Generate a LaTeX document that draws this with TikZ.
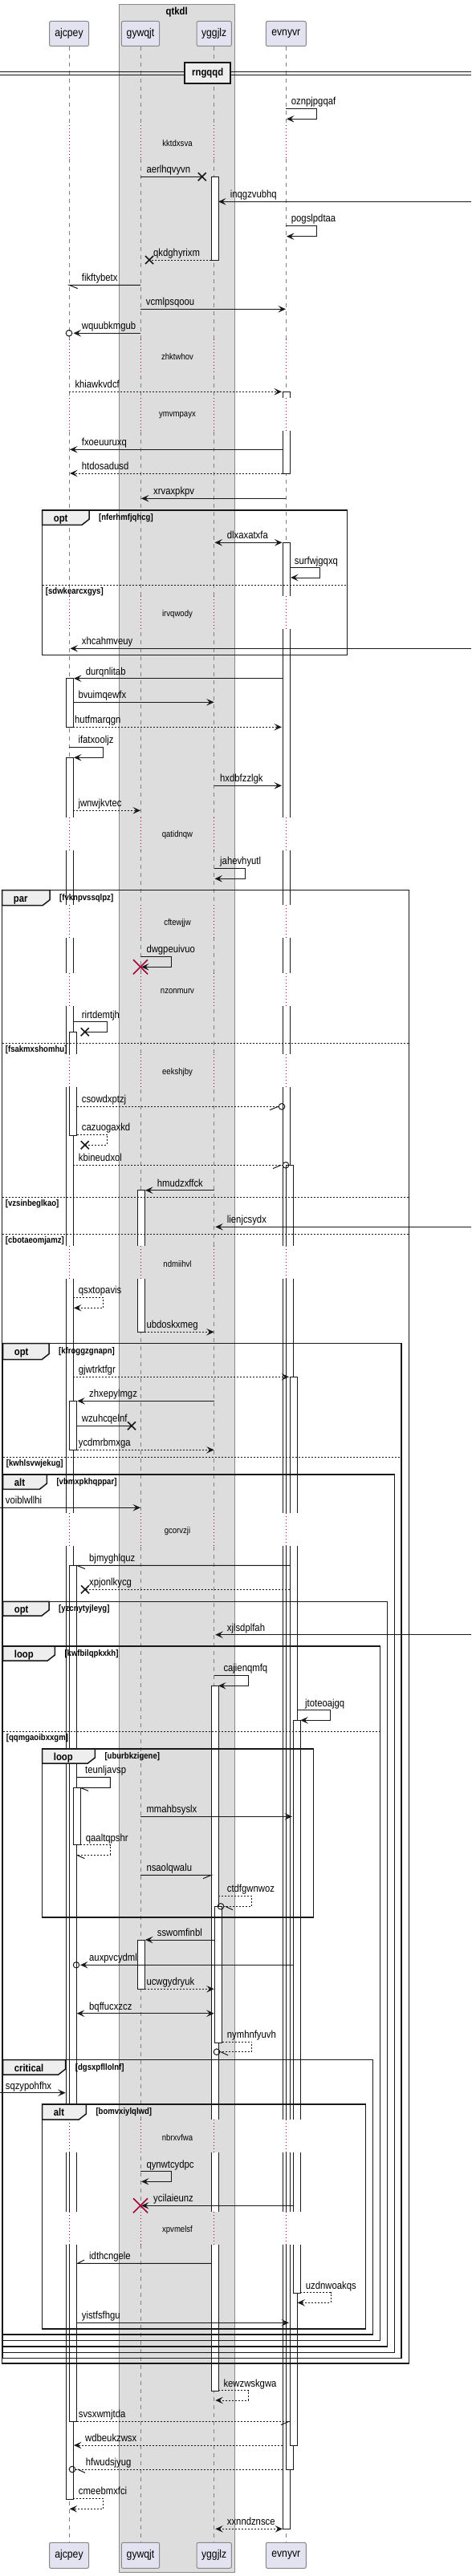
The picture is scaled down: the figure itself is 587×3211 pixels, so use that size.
\documentclass[tikz,border=0pt]{standalone}
\usepackage{fontspec}
\setmainfont{Liberation Sans}[FakeStretch=0.87]
\usetikzlibrary{arrows.meta}
\definecolor{grpbg}{HTML}{DDDDDD}
\definecolor{grpline}{HTML}{888888}
\definecolor{partbg}{HTML}{E2E2F0}
\definecolor{tabbg}{HTML}{EEEEEE}
\definecolor{pumlred}{HTML}{A80036}
\definecolor{lifegray}{HTML}{808080}
\definecolor{ink}{HTML}{181818}
\tikzset{
 lab/.style={font=\fontsize{13}{15}\selectfont, inner sep=0pt, anchor=base west},
 dlab/.style={font=\fontsize{11}{13}\selectfont, inner sep=0pt},
 clab/.style={font=\bfseries\fontsize{11}{13}\selectfont, inner sep=0pt, anchor=base west},
 tlab/.style={font=\bfseries\fontsize{13}{15}\selectfont, inner sep=0pt, anchor=base west},
 part/.style={draw=grpline, fill=partbg, rounded corners=2pt, line width=1pt, font=\fontsize{14}{16}\selectfont, minimum height=31pt, inner sep=0pt},
 life/.style={draw=lifegray, line width=1pt, dash pattern=on 5pt off 5pt},
 dotl/.style={draw=pumlred, line width=1pt, dash pattern=on 1pt off 3pt},
 act/.style={draw=ink, fill=white, line width=1pt},
 msg/.style={draw=ink, line width=1pt},
 dmsg/.style={msg, dash pattern=on 2pt off 2pt},
 tip/.style={-{Stealth[length=9.5pt,width=8.5pt,inset=4pt]}},
 bitip/.style={{Stealth[length=9.5pt,width=8.5pt,inset=4pt]}-{Stealth[length=9.5pt,width=8.5pt,inset=4pt]}},
 frm/.style={draw=ink, line width=1.5pt},
 tabst/.style={draw=ink, fill=tabbg, line width=1.5pt},
 elsel/.style={draw=ink, line width=1pt, dash pattern=on 2pt off 2pt},
 xm/.style={draw=ink, line width=1.6pt},
 rxm/.style={draw=pumlred, line width=1.6pt},
}
\newcommand\xmk[2]{\draw[xm] (#1,#2) ++(-5,-5) -- ++(10,10) ++(-10,0) -- ++(10,-10);}
\newcommand\rxmk[2]{\draw[rxm] (#1,#2) ++(-9,-9) -- ++(18,18) ++(-18,0) -- ++(18,-18);}
\newcommand\mlb[3]{\node[lab] at (#1,#2-4.5) {#3};}
\newcommand\actbox[4]{\draw[act] (#1,#3) rectangle (#2,#4);}
\newcommand\dly[2]{%
 \fill[white] (0,#2-22) rectangle (587,#2+19);
 \fill[grpbg] (148,#2-22) rectangle (292.3,#2+19);
 \foreach \lx in {86,175,266.7,356.3}{\draw[dotl] (\lx,#2-22) -- (\lx,#2+19);}
 \node[dlab] at (221,#2) {#1};}
\newcommand\grp[8]{%
 \draw[frm] (#1,#2) rectangle (#3,#4);
 \draw[tabst] (#1,#2) -- (#5,#2) -- (#5,#6-7) -- (#5-9,#6) -- (#1,#6) -- cycle;
 \node[tlab] at (#1+14,#2+14.5) {#7};
 \node[clab] at (#5+12,#2+12.5) {#8};}
\newcommand\els[4]{%
 \draw[elsel] (#1,#3) -- (#2,#3);
 \node[clab] at (#1+4,#3+11.5) {#4};}
\begin{document}
\begin{tikzpicture}[x=1pt,y=-1pt]
\useasboundingbox (0,0) rectangle (587,3211);
% group background
\fill[grpbg] (148,6) rectangle (292.3,3206.3);
% participants
\node[part, minimum width=49pt] (pA) at (86,42) {ajcpey};
\node[part, minimum width=47.3pt] (pB) at (175,42) {gywqjt};
\node[part, minimum width=43.3pt] (pC) at (266.7,42) {yggjlz};
\node[part, minimum width=50pt] (pD) at (356.3,42) {evnyvr};
\node[part, minimum width=49pt, minimum height=32pt] (qA) at (86,3185.3) {ajcpey};
\node[part, minimum width=47.3pt, minimum height=32pt] (qB) at (175,3185.3) {gywqjt};
\node[part, minimum width=43.3pt, minimum height=32pt] (qC) at (266.7,3185.3) {yggjlz};
\node[part, minimum width=50pt, minimum height=32pt] (qD) at (356.3,3185.3) {evnyvr};
% lifelines
\draw[life] (pA.south) -- (qA.north);
\draw[life] (pB.south) -- (qB.north);
\draw[life] (pC.south) -- (qC.north);
\draw[life] (pD.south) -- (qD.north);
% activations
\actbox{82.3}{91.3}{845.7}{906.3}
\actbox{82.3}{91.3}{944.3}{3115.3}
\actbox{86.7}{95.7}{1286.3}{1415.3}
\actbox{86.7}{95.7}{1746.3}{1807.3}
\actbox{86.7}{95.7}{1951.3}{3018.3}
\actbox{91.3}{100}{2228.3}{2299.7}
\actbox{171.3}{180.3}{1483.7}{1660.3}
\actbox{171.3}{180.3}{2418}{2479.3}
\actbox{263.3}{272}{220.3}{324}
\actbox{263.3}{272}{2101.3}{2980.3}
\actbox{267.7}{276.7}{2376.3}{2546.3}
\actbox{352}{361}{488.3}{590}
\actbox{352}{361}{676.3}{3152.3}
\actbox{356.7}{365.7}{1452.3}{3078}
\actbox{361}{370}{1716.3}{3048}
\actbox{365.7}{374.3}{2144.3}{2858}
% delays
\dly{kktdxsva}{178.3}
\dly{zhktwhov}{444.7}
\dly{ymvmpayx}{518}
\dly{irvqwody}{765.3}
\dly{qatidnqw}{1040.7}
\dly{cftewjjw}{1150.3}
\dly{nzonmurv}{1235.3}
\dly{eekshjby}{1336.3}
\dly{ndmiihvl}{1575.3}
\dly{gcorvzji}{1908.3}
\dly{nbrxvfwa}{2664.3}
\dly{xpvmelsf}{2779.3}
% group outline and title
\draw[grpline, line width=1pt] (148,6) rectangle (292.3,3206.3);
\node[font=\bfseries\fontsize{13}{15}\selectfont, inner sep=0pt] (gt) at (220.2,15) {qtkdl};
% divider
\draw[ink, line width=1pt] (0,89.3) -- (587,89.3) (0,93.3) -- (587,93.3);
\node[draw=ink, line width=2pt, fill=tabbg, font=\bfseries\fontsize{13}{15}\selectfont, minimum width=57.3pt, minimum height=25.7pt, inner sep=0pt] (dv) at (258.7,91.2) {rngqqd};
% frames
\grp{52.7}{636}{432.3}{816.7}{111}{654.3}{opt}{[nferhmfjqhcg]}
\els{52.7}{432.3}{729.3}{[sdwkearcxgys]}
\grp{2.7}{1109.7}{509.3}{2946}{62}{1128.7}{par}{[fvknpvssqlpz]}
\els{2.7}{509.3}{1300.3}{[fsakmxshomhu]}
\els{2.7}{509.3}{1492.3}{[vzsinbeglkao]}
\els{2.7}{509.3}{1538.3}{[cbotaeomjamz]}
\grp{3.7}{1674.7}{500}{2939.3}{61}{1694.7}{opt}{[kfroggzgnapn]}
\els{3.7}{500}{1816.3}{[kwhlsvwjekug]}
\grp{3.7}{1838}{491.7}{2932.3}{58.3}{1856.3}{alt}{[vbmxpkhqppar]}
\grp{3.7}{1996.3}{482.3}{2925}{61}{2014}{opt}{[yzcnytyjleyg]}
\grp{3.7}{2052}{473.3}{2917.3}{68.3}{2070}{loop}{[kwfbilqpkxkh]}
\els{3.7}{473.3}{2158.3}{[qqmgaoibxxgm]}
\grp{52.7}{2180}{390.7}{2390}{118.3}{2198}{loop}{[uburbkzigene]}
\grp{3.7}{2567.7}{464.3}{2910}{81.7}{2586}{critical}{[dgsxpfllolnf]}
\grp{52.7}{2623}{455.3}{2903}{107.3}{2642}{alt}{[bomvxiylqlwd]}
% messages
\draw[msg,tip] (356.3,135.3) -- (394,135.3) -- (394,148.3) -- (357,148.3); \mlb{362.7}{135.3}{oznpjpgqaf}
\draw[msg] (175,220.3) -- (251.7,220.3); \xmk{251.7}{220.3} \mlb{182.3}{220.3}{aerlhqvyvn}
\draw[msg,tip] (587,251.3) -- (272,251.3); \mlb{286.7}{251.3}{inqgzvubhq}
\draw[msg,tip] (356.3,281.3) -- (394,281.3) -- (394,294.7) -- (357,294.7); \mlb{362.7}{281.3}{pogslpdtaa}
\draw[dmsg] (263.3,324) -- (186,324); \xmk{186}{324} \mlb{191}{324}{qkdghyrixm}
\draw[msg] (175,355.3) -- (86,355.3) -- ++(10.7,4.3); \mlb{101.7}{355.3}{fikftybetx}
\draw[msg,tip] (175,385.3) -- (356,385.3); \mlb{181.7}{385.3}{vcmlpsqoou}
\draw[msg,tip] (175,415.3) -- (91.5,415.3); \draw[msg] (86,415.3) circle (3.8); \mlb{101.7}{415.3}{wquubkmgub}
\draw[dmsg,tip] (86,488.3) -- (351,488.3); \mlb{93.3}{488.3}{khiawkvdcf}
\draw[msg,tip] (352,560.3) -- (87,560.3); \mlb{101.7}{560.3}{fxoeuuruxq}
\draw[dmsg,tip] (352,590) -- (87,590); \mlb{101.7}{590}{htdosadusd}
\draw[msg,tip] (356.3,621.3) -- (176,621.3); \mlb{191}{621.3}{xrvaxpkpv}
\draw[msg,bitip] (267.5,676.3) -- (351.5,676.3); \mlb{282.7}{676.3}{dlxaxatxfa}
\draw[msg,tip] (361,707.7) -- (398.7,707.7) -- (398.7,720) -- (362,720); \mlb{366.7}{707.7}{surfwjgqxq}
\draw[msg,tip] (587,808.3) -- (87.5,808.3); \mlb{101.7}{808.3}{xhcahmveuy}
\draw[msg,tip] (352,845.7) -- (92,845.7); \mlb{106.7}{845.7}{durqnlitab}
\draw[msg,tip] (91.3,875.3) -- (266.7,875.3); \mlb{97.3}{875.3}{bvuimqewfx}
\draw[dmsg,tip] (91.3,906.3) -- (351,906.3); \mlb{93}{906.3}{hutfmarqgn}
\draw[msg,tip] (86,931.3) -- (128.7,931.3) -- (128.7,944.3) -- (92,944.3); \mlb{97.3}{931.3}{ifatxooljz}
\draw[msg,tip] (266.7,979.3) -- (351,979.3); \mlb{274}{979.3}{hxdbfzzlgk}
\draw[dmsg,tip] (91.3,1010.3) -- (175,1010.3); \mlb{97.3}{1010.3}{jwnwjkvtec}
\draw[msg,tip] (266.7,1082.3) -- (305,1082.3) -- (305,1095.3) -- (267.5,1095.3); \mlb{274}{1082.3}{jahevhyutl}
\draw[msg,tip] (175,1192.3) -- (213,1192.3) -- (213,1205.3) -- (176,1205.3); \rxmk{175}{1205.3} \mlb{182.3}{1192.3}{dwgpeuivuo}
\draw[msg] (91.3,1273.7) -- (133.3,1273.7) -- (133.3,1286.3) -- (105.7,1286.3); \xmk{105.7}{1286.3} \mlb{101.7}{1273.7}{rirtdemtjh}
\draw[dmsg] (95.7,1379.3) -- (347.2,1379.3); \draw[msg] (351,1379.3) circle (3.8); \draw[msg] (346.7,1379.3) -- ++(-10.7,4.3); \mlb{101.7}{1379.3}{csowdxptzj}
\draw[dmsg] (95.7,1414) -- (133.3,1414) -- (133.3,1427.3) -- (105.7,1427.3); \xmk{105.7}{1427.3} \mlb{101.7}{1414}{cazuogaxkd}
\draw[dmsg] (91.3,1452.3) -- (352.2,1452.3); \draw[msg] (356,1452.3) circle (3.8); \draw[msg] (350,1452.3) -- ++(-10,4.3); \mlb{97.7}{1452.3}{kbineudxol}
\draw[msg,tip] (266.7,1483.7) -- (181,1483.7); \mlb{195.7}{1483.7}{hmudzxffck}
\draw[msg,tip] (587,1529.3) -- (268.3,1529.3); \mlb{282.7}{1529.3}{lienjcsydx}
\draw[dmsg,tip] (91.3,1617.3) -- (128.7,1617.3) -- (128.7,1630.3) -- (92,1630.3); \mlb{97.7}{1617.3}{qsxtopavis}
\draw[dmsg,tip] (180.3,1660.3) -- (266.7,1660.3); \mlb{182.3}{1660.3}{ubdoskxmeg}
\draw[dmsg,tip] (91.3,1716.3) -- (360,1716.3); \mlb{97.7}{1716.3}{gjwtrktfgr}
\draw[msg,tip] (266.7,1746.3) -- (96.3,1746.3); \mlb{111}{1746.3}{zhxepylmgz}
\draw[msg] (95.7,1777.3) -- (164,1777.3); \xmk{164}{1777.3} \mlb{101.7}{1777.3}{wzuhcqelnf}
\draw[dmsg,tip] (95.7,1807.3) -- (266.7,1807.3); \mlb{97.7}{1807.3}{ycdmrbmxga}
\draw[msg,tip] (0,1879.3) -- (175,1879.3); \mlb{6.7}{1879.3}{voiblwllhi}
\draw[msg] (361,1951.3) -- (95.7,1951.3) -- ++(10.3,4.3); \mlb{111}{1951.3}{bjmyghlquz}
\draw[dmsg] (361,1981.3) -- (106,1981.3); \xmk{106}{1981.3} \mlb{111}{1981.3}{xpjonlkycg}
\draw[msg,tip] (587,2037.7) -- (268.3,2037.7); \mlb{282.7}{2037.7}{xjlsdplfah}
\draw[msg,tip] (266.7,2088.3) -- (309.3,2088.3) -- (309.3,2101.3) -- (272,2101.3); \mlb{278.3}{2088.3}{cajienqmfq}
\draw[msg,tip] (370,2131.7) -- (411.7,2131.7) -- (411.7,2144.3) -- (374.3,2144.3); \mlb{380}{2131.7}{jtoteoajgq}
\draw[msg] (95.7,2215.3) -- (137.3,2215.3) -- (137.3,2228.3) -- (100,2228.3) -- ++(10,4); \mlb{106}{2215.3}{teunljavsp}
\draw[msg,tip] (175,2264.3) -- (364,2264.3); \mlb{182.3}{2264.3}{mmahbsyslx}
\draw[dmsg] (100,2299.7) -- (137.3,2299.7) -- (137.3,2312.3) -- (95.7,2312.3); \draw[msg] (95.7,2312.3) -- ++(9.7,4.3); \mlb{106.7}{2299.7}{qaaltqpshr}
\draw[msg] (175,2337.3) -- (263.3,2337.3) -- ++(-10.3,4.3); \mlb{182.3}{2337.3}{nsaolqwalu}
\draw[dmsg] (272,2363.3) -- (313.7,2363.3) -- (313.7,2376.3) -- (278.8,2376.3); \draw[msg] (275,2376.3) circle (3.8); \draw[msg] (280.7,2376.3) -- ++(9.3,4.3); \mlb{282.7}{2363.3}{ctdfgwnwoz}
\draw[msg,tip] (267.7,2418) -- (181,2418); \mlb{195.7}{2418}{sswomfinbl}
\draw[msg,tip] (365.7,2449.3) -- (100,2449.3); \draw[msg] (95,2449.3) circle (3.7); \mlb{111}{2449.3}{auxpvcydml}
\draw[dmsg,tip] (180.3,2479.3) -- (266.7,2479.3); \mlb{182.3}{2479.3}{ucwgydryuk}
\draw[msg,bitip] (95.7,2509.7) -- (266.7,2509.7); \mlb{111}{2509.7}{bqffucxzcz}
\draw[dmsg] (276.7,2545.3) -- (313.7,2545.3) -- (313.7,2557.7) -- (273.8,2557.7); \draw[msg] (270,2557.7) circle (3.8); \draw[msg] (275,2557.7) -- ++(9.3,4.3); \mlb{282.7}{2545.3}{nymhnfyuvh}
\draw[msg,tip] (0,2608.7) -- (81.7,2608.7); \mlb{6.7}{2608.7}{sqzypohfhx}
\draw[msg,tip] (175,2706.7) -- (213,2706.7) -- (213,2719.3) -- (176,2719.3); \mlb{182.3}{2706.7}{qynwtcydpc}
\draw[msg,tip] (365.7,2749.3) -- (176,2749.3); \rxmk{175}{2749.3} \mlb{191}{2749.3}{ycilaieunz}
\draw[msg] (263.3,2821.3) -- (96.7,2821.3) -- ++(8.3,-4.3); \mlb{111}{2821.3}{idthcngele}
\draw[dmsg,tip] (374.3,2857.7) -- (412,2857.7) -- (412,2870.3) -- (370.5,2870.3); \mlb{380.7}{2857.7}{uzdnwoakqs}
\draw[msg,tip] (95.7,2895.3) -- (360,2895.3); \mlb{101.7}{2895.3}{yistfsfhgu}
\draw[dmsg,tip] (272,2979.7) -- (309.3,2979.7) -- (309.3,2992) -- (268.3,2992); \mlb{278.3}{2979.7}{kewzwskgwa}
\draw[dmsg] (95.7,3018.3) -- (360,3018.3); \draw[msg] (360,3018.3) -- ++(-10,4.3); \mlb{97.7}{3018.3}{svsxwmjtda}
\draw[dmsg,tip] (352.3,3048) -- (92,3048); \mlb{106}{3048}{wdbeukzwsx}
\draw[dmsg] (352,3078) -- (93.8,3078); \draw[msg] (90,3078) circle (3.8); \draw[msg] (96.7,3078) -- ++(9.3,4.3); \mlb{106.7}{3078}{hfwudsjyug}
\draw[dmsg,tip] (91.3,3114.3) -- (128.7,3114.3) -- (128.7,3127.3) -- (86.7,3127.3); \mlb{97.7}{3114.3}{cmeebmxfci}
\draw[dmsg,bitip] (268.3,3152.3) -- (352,3152.3); \mlb{282.7}{3152.3}{xxnndznsce}
\end{tikzpicture}
\end{document}
